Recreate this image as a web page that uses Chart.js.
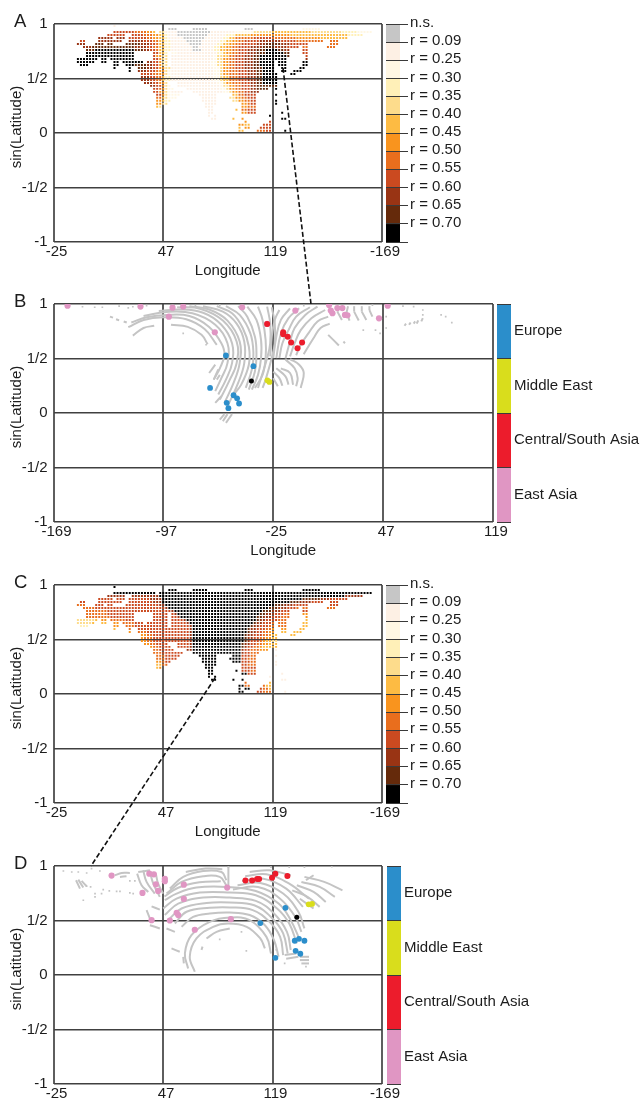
<!DOCTYPE html>
<html><head><meta charset="utf-8">
<script src="https://cdn.jsdelivr.net/npm/chart.js@4"></script>
<style>
html,body{margin:0;padding:0;background:#fff;}
#page{position:relative;width:641px;height:1100px;overflow:hidden;filter:blur(.35px);}
canvas{position:absolute;}
svg{position:absolute;left:0;top:0;pointer-events:none;}
</style></head><body><div id="page">
<svg width="641" height="1100"><line x1="283" y1="68" x2="311" y2="304" stroke="#111" stroke-width="1.6" stroke-dasharray="5 2.5"/><line x1="215" y1="678" x2="91" y2="866" stroke="#111" stroke-width="1.6" stroke-dasharray="5 2.5"/></svg>
</div>
<script>
// ---------- tick values and labels ----------
const lonValuesEast = [-25,47,119,191];
const lonValuesWest = [-169,-97,-25,47,119];
const lonTicksEast = ["-25","47","119","-169"];
const lonTicksWest = ["-169","-97","-25","47","119"];
const sinTicks = ["-1","-1/2","0","1/2","1"];
const rLabels = ["n.s.","r = 0.09","r = 0.25","r = 0.30","r = 0.35","r = 0.40","r = 0.45","r = 0.50","r = 0.55","r = 0.60","r = 0.65","r = 0.70"];
const rColors = ["#c6c6c6","#fdf0e4","#fff7e4","#fff0b8","#fddc8c","#fdbb43","#f9941e","#e96e1d","#cb4a20","#993414","#652a0b","#000000"];
const regionNames = ["Europe","Middle East","Central/South Asia","East Asia"];
const regionColors = ["#2b8ecb","#d9dd1c","#ec1c2c","#e096c3"];

// ---------- sampled map cells: column ranges per row (2 degree columns from -25) ----------
const landRows = ["20","38-40 46-50 63-65 82-87","20-33 35-104","18-23 26-101","15-19 21-23 25-96","9-10 15-19 20-22 25-88 91-93",
"8-10 14-16 18-19 24-80 81-83 91-93","10-80 82-83 90-92","11-77 82-83","11-26 33-37 39-77 82-83","11-26 33-37 39-77 83",
"8-14 16-17 19-26 33-37 39-76 83","8-13 16-17 20-21 23-26 27-29 31-37 39-72 74-76 82-83","9-11 20-21 24-26 27-37 39-72 74-76 82-83",
"20 25 28-72 75-76 81-82","25 28-72 75-76 79-81","29-73 78-79","29-73","29-73","30-37 41-73","32-38 41-73","33-39 44-70 73","33-42 46-67",
"34-41 48-53 59-66 73","34-40 49-53 58-66","34-38 49-53 59-61 62-66 73","34-37 50-53 62-66 73","34-35 50-52 62-66","51-52 60 62-66",
"51-52 62-63 64-66 75","51 53 71","52-53 59 62 75-76","63 71","61-62 63-64 69-71","61 63-64 68-71","61-62 67-71 76"];

// class stops per row: "column:class" (class index into rColors, base 12)
const classRowsA = ["0:1","38:0 60:2 63:0 70:2",
"20:8 27:7 31:6 33:5 35:4 37:1 41:0 52:1 60:2 66:4 72:5 85:4 95:3 100:2",
"18:8 30:7 33:6 35:5 37:3 38:1 41:0 51:1 57:3 60:5 65:6 78:5 97:3",
"15:9 25:8 31:7 33:6 35:5 37:3 38:1 43:0 50:1 56:3 58:5 60:7 66:8 72:7 80:6 88:5",
"9:8 15:9 30:8 33:7 35:5 37:3 39:1 44:0 49:1 55:3 57:5 59:6 61:7 63:8 68:9 75:8 80:7",
"8:9 14:a 29:9 32:8 34:7 35:5 37:3 39:1 45:0 49:1 54:3 56:5 58:6 60:7 62:8 67:9 70:a 75:9 78:8 90:7",
"10:9 13:a 27:9 31:8 33:7 35:5 37:3 39:1 46:0 48:1 53:3 55:5 57:6 59:7 61:8 65:9 69:a 73:9 77:8 82:7",
"11:a 14:b 27:a 30:9 32:8 34:7 35:5 37:3 39:1 46:0 49:1 53:3 55:5 57:6 59:7 61:8 64:9 67:a 70:b 74:a 76:9 82:8",
"11:b 33:8 35:5 37:3 39:2 41:1 54:3 56:5 57:6 59:7 61:8 64:9 67:a 70:b 76:a 82:8",
"11:b 33:8 34:6 36:4 39:1 53:2 54:4 56:5 58:7 60:8 63:9 66:a 68:b 77:a 83:8",
"8:b 33:8 35:6 36:4 39:1 53:2 54:4 56:6 58:7 60:8 63:9 66:a 68:b 83:9",
"8:b 31:9 33:8 35:6 36:4 39:1 52:2 54:4 56:6 58:7 60:8 63:9 66:a 68:b",
"9:b 27:a 31:9 33:8 35:6 36:4 39:1 52:2 54:4 56:6 58:7 60:8 63:9 66:a 68:b",
"20:b 28:a 31:9 33:8 35:6 37:4 39:1 53:2 55:4 56:6 58:7 60:8 63:9 66:a 69:b",
"25:b 28:9 31:8 34:7 35:6 37:4 38:2 39:1 53:2 55:4 56:6 58:7 61:8 64:9 67:a 69:b",
"29:8 33:7 35:6 37:4 38:2 39:1 53:2 55:4 56:6 58:7 61:8 64:9 67:a 69:b",
"29:9 32:8 34:7 36:5 37:3 39:1 53:2 55:4 56:5 58:7 61:8 64:9 67:a 69:b",
"29:9 32:8 34:7 36:5 37:3 39:1 53:2 55:4 56:5 58:7 61:8 64:9 67:a 69:b",
"30:9 33:8 35:6 37:4 41:1 54:2 56:4 57:6 59:7 62:8 65:9 67:a 69:b",
"32:9 34:8 36:6 37:4 38:2 41:1 55:2 56:4 58:6 60:7 62:8 65:9 67:a",
"33:8 35:7 36:6 37:4 38:2 44:1 55:2 57:4 58:6 60:7 62:8 65:9 67:a 73:b",
"33:8 35:6 37:4 38:2 39:1 56:2 58:4 59:6 61:7 63:8 65:9",
"34:8 36:6 37:4 38:2 48:1 59:5 61:7 63:8 73:b",
"34:7 36:5 37:4 38:2 49:1 58:4 60:6 62:7 64:8",
"34:6 36:5 37:3 49:1 59:4 61:6 63:7 65:8 73:b",
"34:6 36:4 50:1 62:6 64:7 65:8 73:b",
"34:5 35:4 50:1 62:6 64:7",
"51:1 60:5 62:7 64:8",
"51:1 62:6 64:8 75:b",
"51:1 71:b",
"52:1 59:5 62:6 75:b",
"63:6 71:8",
"61:6 63:5 69:8",
"61:5 63:6 68:8",
"61:5 67:7 70:8 76:b"];

const classRowsC = ["0:b","0:b","0:b",
"18:9 35:b 96:9",
"15:8 32:9 36:b 82:a 88:9 91:8",
"9:8 33:9 36:b 78:a 81:9 85:8",
"8:7 14:8 35:9 37:b 73:a 76:9 79:8",
"10:7 14:8 37:9 38:b 71:a 74:9 77:8 80:7",
"11:7 18:8 39:9 40:b 69:a 72:9 75:8",
"11:7 18:8 40:9 41:b 68:a 70:9 73:8 76:7 82:6",
"11:7 19:8 41:9 42:b 67:a 69:9 72:8 75:7 83:6",
"8:4 14:5 16:6 19:7 24:8 43:9 44:b 67:a 68:9 70:8 74:7 83:5",
"8:4 13:5 20:6 23:7 27:8 44:9 45:b 66:a 67:9 69:8 72:7 82:5",
"9:3 20:6 24:7 27:8 45:9 46:b 65:a 66:9 68:8 71:7 82:5",
"20:5 25:7 28:8 45:9 46:b 64:a 65:9 67:8 70:7 72:6 81:5",
"25:6 28:7 31:8 45:9 46:b 64:a 65:9 67:8 69:7 71:6 73:5",
"29:6 31:7 33:8 45:9 46:b 63:a 64:9 66:8 69:7 71:6 72:5",
"29:6 30:7 33:8 45:9 46:b 63:a 64:9 66:8 68:7 70:6 72:5",
"29:6 31:7 33:8 45:9 46:b 63:a 64:9 65:8 68:7 69:6 70:5 72:4",
"30:6 32:7 34:8 45:9 46:b 62:a 63:9 65:8 67:7 69:6 71:5",
"32:6 33:7 35:8 45:9 46:b 62:a 63:9 64:8 66:7 68:6 69:5",
"33:7 35:8 44:9 46:b 62:9 63:8 65:7 68:6 73:1",
"33:7 36:8 46:b 62:9 63:8 65:7",
"34:7 37:8 48:b 62:8 65:7 73:1",
"34:7 37:8 49:b 62:8 64:7",
"34:6 36:7 37:8 49:b 62:8 65:7 73:1",
"34:5 36:7 50:b 62:8 64:7 73:1",
"34:5 35:6 50:b 62:8",
"51:b 62:8 65:7",
"51:b 64:8 75:1",
"51:b 71:1",
"52:b 75:1",
"63:7 71:5",
"61:b 63:7 70:5",
"61:b 68:8 69:7 71:5",
"61:b 67:8 69:7 76:1"];

// ---------- panel B: grey arcs (lon, sin) and isolated cells ----------
const grayArcsB = [
[-117,.71,-110,.78,-103,.80],[-92,.81,-81,.79,-72,.717,-68,.63],
[-120,.787,-110,.854,-97,.878,-82,.86,-70,.77,-62,.626],
[-118,.83,-108,.878,-95,.90,-80,.89,-67,.79,-59,.64,-57,.534,-60,.41,-64,.306],
[-110,.89,-95,.927,-78,.915,-63,.81,-55,.64,-55,.458,-59,.32,-63,.20],
[-100,.936,-86,.95,-71,.92,-59,.81,-52,.64,-52,.458,-56,.306,-61,.17],
[-88,.97,-73,.957,-58,.848,-49,.656,-49,.458,-54,.29,-60,.123],
[-80,.98,-67,.95,-55,.848,-47,.656,-47,.458,-51,.276,-57,.093],
[-71,.98,-58,.93,-49,.82,-44,.656,-44,.458,-48,.276,-55,.06],
[-62,.98,-52,.915,-45,.78,-41,.61,-41,.443,-46,.26,-51,.17],
[-56,.98,-47,.90,-40,.73,-38,.55,-39,.40,-43,.23],
[-48,.98,-42,.884,-37,.70,-36,.534,-37,.382,-41,.215],
[-42,.976,-36,.854,-33,.67,-33,.504,-35,.35,-39,.215],
[-35,.976,-32,.854,-30,.67,-30,.504,-32,.35,-37,.23],
[-29,.976,-27,.82,-27,.64,-29,.504,-33,.32,-35,.23],
[-26,.97,-24,.82,-24,.64,-26,.504,-30,.306,-32,.23],
[-27,.52,-26,.70,-24,.854,-21,.945],[-25,.504,-23,.70,-20,.854,-14,.96],
[-23,.504,-20,.73,-15,.87,-8,.96],[-21,.504,-19,.64,-15,.76,-10,.884,-1,.97],
[-17,.50,-14,.656,-11,.78,-4,.90,4,.976],[-14,.52,-11,.64,-7,.76,0,.87,9,.945],
[-10,.53,-7,.626,-2,.73,4,.84,11,.884],[-5,.54,-2,.61,2,.70,6,.78,12,.82],
[11,.717,18,.62],[21,.656,22,.64],
[-14,.495,-8,.443,-5,.367,-7,.23],[-17,.49,-11,.41,-9,.32,-10,.245],[-20,.41,-14,.367,-12,.26],
[-23,.41,-17,.336,-15,.26],[-25,.38,-21,.32,-19,.25],[-25,.32,-22,.245],
[17,.93,18,.98],[17,.93,20,.854],[23,.92,24,.98],[23,.92,25,.848],[28,.93,28,.98],[28,.93,31,.848],[33,.93,33,.98],[33,.93,36,.854],[38,.945,38,.98],[38,.945,40,.884],
[61,.80,62,.82],[64,.81,65,.83],[67,.82,68,.84],[69,.82,70,.85],[72,.84,73,.87],
[-63,.443,-67,.367],[-61,.40,-64,.306],[-60,.35,-62,.306],[-59,.155,-63,.093],
[-55,-.01,-58,-.075],[-57,-.01,-60,-.06],[-52,-.01,-56,-.09],
[-132,.884,-130,.875],[-128,.86,-126,.85],[-123,.84,-121,.83]];
const grayLonB = [67,73,73,85,88,92,34,42,45,49,49,-84,-69,-150,-142,-137,-126,-120,-117,-108,-76,-60,-5,40,60];
const graySinB = [.976,.945,.90,.90,.885,.83,.76,.76,.73,.78,.884,.73,.626,.975,.97,.97,.98,.965,.975,.985,.985,.99,.985,.99,.98];

const blueLonB = [-56,-38,-66.4,-51,-48.7,-55.5,-47.4,-54.4];
const blueSinB = [.528,.43,.23,.163,.135,.093,.087,.044];
const yellowLonB = [-27.5,-28.8];
const yellowSinB = [.285,.30];
const redLonB = [-29,-18.5,-18.5,-15.5,-13.3,-9.1,-6.1];
const redSinB = [.817,.741,.723,.70,.647,.595,.647];
const pinkLonB = [-159.8,-112,-91,-84,-93.4,-63.3,-45.4,-10.5,-29,11.6,12.7,13.8,17,20.3,22,23.6,44.3,50];
const pinkSinB = [.985,.976,.966,.976,.884,.741,.97,.94,.817,.99,.94,.915,.963,.963,.90,.897,.869,.985];
const blackLonB = [-39.3];
const blackSinB = [.294];

// ---------- panel D ----------
const grayArcsD = [
[75.6,.335,82.2,.396,90.9,.427],
[67.9,.03,64.6,.167,69,.335,80,.442,89.8,.472,102,.442,111,.335,114,.244],
[63.5,.06,61.4,.198,65.7,.366,77.8,.488,90.9,.527,104,.503,115,.35,118,.198],
[59.2,.442,66.8,.533,77.8,.564,90.9,.573,104,.55,114,.457,120,.32,123,.167],
[54.8,.472,62.5,.58,77.8,.616,90.9,.62,106,.595,117,.488,124,.35,126,.183],
[50.4,.503,59.2,.61,75.6,.66,90.9,.665,107,.64,119,.518,126,.381,129,.198],
[48.2,.55,57,.655,73.4,.71,90.9,.71,108,.68,120,.564,128.5,.396,131,.23],
[47.1,.61,55.9,.70,71.2,.756,90.9,.756,108,.732,122,.61,130,.472,135,.29],
[48.2,.686,55.9,.747,69,.802,88.7,.808,108,.771,123,.655,131,.503,137,.32],
[93,.784,109.5,.808,124,.70,134,.533,138,.396],
[96,.823,111,.845,126,.747,136,.58,140,.427],
[99,.863,113,.884,128,.793,139,.625],
[101,.906,115,.924,130,.838,143,.70],
[104,.945,117,.96,131,.915],
[90,.99,90,.823],
[62,.945,75,.976,86,.97],
[51.5,.793,60.3,.90,73.4,.954,85.4,.945,88.7,.869],
[49.3,.747,59.2,.854,73.4,.906,84.3,.90,88.7,.823],
[48,.72,57,.80,71,.85,85,.86],
[30,.93,32.9,.823,37.3,.762],[34,.96,36.2,.854,41.6,.747],[38.4,.945,40.6,.838,44.9,.717],[42.3,.93,43.8,.838,47.1,.747],
[15.4,.915,19.8,.936,25.2,.936],[18.7,.90,23,.906],[30.7,.945,38.4,.96],
[39.5,.63,44.9,.60],[36.2,.595,38.4,.518],[38.4,.457,44.9,.427],[49.3,.427,54.8,.396],[52.6,.244,58,.213],[60.3,.167,60.7,.106],[73,.26,72.3,.23],
[-10.2,.869,-7.6,.793],[-8.7,.875,-5.4,.802],[-6.5,.863,-3.2,.814],
[140,.90,153,.854,165,.777],[138,.854,150,.808,160,.717],[135,.823,146,.762,154,.67],[132,.777,142,.717,150,.625],[137,.70,146,.61],[141,.87,146,.915],
[127,.183,134.7,.198],[128,.15,136,.167],[137,.167,143,.167],[137,.137,143,.137],[138,.106,143,.106]];
const grayLonD = [-18.5,-13,-8.7,-3.2,0,5.5,-3.2,-.6,2.3,6.6,2.3,-5.4,7.7,11.7,16.5,18.7,25.2,27.4,25.2,28.5,84.3,98.6,101.8,120.5,121.5,127,141,90,118,130,140,158];
const graySinD = [.954,.945,.945,.936,.976,.954,.814,.808,.747,.747,.717,.686,.784,.771,.768,.768,.753,.747,.863,.863,.326,.396,.222,.29,.23,.106,.076,.99,.99,.99,.99,.995];

const blueLonD = [111,127.5,133.6,136.4,140,134.2,137.3,120.9];
const blueSinD = [.476,.616,.314,.332,.314,.222,.195,.158];
const yellowLonD = [142.8,145];
const yellowSinD = [.648,.652];
const redLonD = [101.2,105.6,108.9,110.2,118.7,120.9,128.8];
const redSinD = [.866,.866,.881,.881,.893,.93,.909];
const pinkLonD = [13.2,38,41,42.3,43.8,33.5,48.2,48.2,60.7,60.7,56,57,39.5,51.5,67.9,89.2,91.6];
const pinkSinD = [.912,.93,.924,.832,.771,.753,.881,.86,.829,.698,.57,.55,.503,.50,.415,.802,.512];
const blackLonD = [135];
const blackSinD = [.53];

// ---------- helpers ----------
const FONT = "'Liberation Sans', Arial, sans-serif";
const page = document.getElementById('page');
Chart.defaults.font.family = FONT;
Chart.defaults.font.size = 15;
Chart.defaults.color = '#1c1c1c';

function addCanvas(left, top, w, h){
  const c = document.createElement('canvas');
  c.width = w; c.height = h;
  c.style.left = left+'px'; c.style.top = top+'px';
  c.style.width = w+'px'; c.style.height = h+'px';
  page.insertBefore(c, page.querySelector('svg'));
  return c;
}
function zeroPad(s){ s.paddingLeft = s.paddingRight = s.paddingTop = s.paddingBottom = 0; }

const panelText = {
  id:'panelText',
  afterDraw(chart, args, o){
    const {ctx, chartArea:a} = chart;
    ctx.save();
    ctx.fillStyle = '#1c1c1c';
    ctx.textBaseline = 'alphabetic';
    ctx.font = "18.5px "+FONT; ctx.textAlign = 'left';
    ctx.fillText(o.letter, 14, a.top+3);
    ctx.font = "15px "+FONT; ctx.textAlign = 'center';
    if(o.xTitle){ ctx.fillText(o.xTitle, (a.left+a.right)/2+10, a.bottom+33); }
    ctx.translate(21, (a.top+a.bottom)/2-6); ctx.rotate(-Math.PI/2);
    ctx.fillText(o.yTitle, 0, 0);
    ctx.restore();
  }
};

function gridSets(classRows){
  const sets = rColors.map(()=>[]);
  landRows.forEach((row, r)=>{
    const stops = classRows[r].split(' ').map(t=>{const p=t.split(':');return [Number(p[0]),parseInt(p[1],12)];});
    row.split(' ').forEach(run=>{
      const p = run.split('-').map(Number);
      const a = p[0], b = p.length>1 ? p[1] : p[0];
      for(let c=a;c<=b;c++){
        let k = stops[0][1];
        for(const s of stops){ if(c>=s[0]) k = s[1]; }
        sets[k].push({x:-25+2.005*c, y:.9817-.02747*r});
      }
    });
  });
  return sets.map((d,i)=>({data:d,backgroundColor:rColors[i],borderWidth:0,pointStyle:'rect',pointRadius:1.4,pointHoverRadius:1.4,order:1}));
}
function zipPts(xs,ys){ return xs.map((x,i)=>({x,y:ys[i]})); }
function markerSet(xs,ys,color,radius,order){
  return {data:zipPts(xs,ys),backgroundColor:color,borderWidth:0,pointRadius:radius,pointStyle:'circle',order:order};
}
function arcSets(arcs,lons,sins){
  const out = arcs.map(f=>{
    const d=[]; for(let i=0;i<f.length;i+=2) d.push({x:f[i],y:f[i+1]});
    return {data:d,showLine:true,borderColor:'#c4c4c4',borderWidth:2,tension:.4,pointRadius:0,order:5,clip:false};
  });
  out.push({data:zipPts(lons,sins),backgroundColor:'#c4c4c4',borderWidth:0,pointStyle:'rect',pointRadius:1.2,order:5});
  return out;
}

function mapChart(top, right, lonValues, lonLabels, datasets, letter, xTitle, xH){
  const padTop = 24, plotH = 218, padRight = 24;
  const c = addCanvas(0, top-padTop, right+padRight, padTop+plotH+xH);
  new Chart(c,{
    type:'scatter',
    data:{datasets},
    plugins:[panelText],
    options:{
      responsive:false, animation:false, events:[],
      layout:{padding:{top:padTop,right:padRight,left:0,bottom:0}},
      plugins:{legend:{display:false},tooltip:{enabled:false},panelText:{letter,xTitle,yTitle:'sin(Latitude)'}},
      scales:{
        x:{type:'linear',bounds:'data',
          afterDataLimits:s=>{s.min=lonValues[0];s.max=lonValues[lonValues.length-1];},
          afterBuildTicks:s=>{s.ticks=lonValues.map(value=>({value}));},
          ticks:{autoSkip:false,maxRotation:0,padding:1,labelOffset:3,color:'#1c1c1c',
            callback:(v,i)=>lonLabels[i]},
          grid:{color:'#5e5e5e',lineWidth:2,drawTicks:false},border:{display:false},
          afterFit:s=>{s.height=xH;zeroPad(s);}},
        y:{type:'linear',min:-1,max:1,
          ticks:{stepSize:.5,autoSkip:false,padding:6,color:'#1c1c1c',
            callback:(v,i)=>sinTicks[i]},
          grid:{color:'#404040',lineWidth:1.5,drawTicks:false},border:{display:false},
          afterFit:s=>{s.width=53.5;zeroPad(s);}}
      }
    }
  });
}

function barChart(left, top, barW, labelW, colors, labels, maxV, tickLen, offset, pad){
  const padV = 12;
  const c = addCanvas(left, top-padV, barW+labelW, 218+2*padV);
  new Chart(c,{
    type:'bar',
    data:{labels:[''],datasets:colors.map(col=>({data:[1],backgroundColor:col,barPercentage:1,categoryPercentage:1,borderWidth:0}))},
    options:{
      responsive:false, animation:false, events:[],
      layout:{padding:{top:padV,bottom:padV,left:0,right:0}},
      plugins:{legend:{display:false},tooltip:{enabled:false}},
      scales:{
        x:{stacked:true,display:false,afterFit:s=>{s.height=0;zeroPad(s);}},
        y:{stacked:true,position:'right',reverse:true,min:0,max:maxV,
          ticks:{stepSize:1,autoSkip:false,padding:pad,labelOffset:offset,color:'#1c1c1c',
            callback:v=>labels[v]!==undefined?labels[v]:''},
          grid:{z:1,color:'#3a3a3a',lineWidth:1,drawTicks:tickLen>0,tickLength:tickLen,tickColor:'#3a3a3a'},
          border:{display:false},
          afterFit:s=>{s.width=labelW;zeroPad(s);}}
      }
    }
  });
}

// ---------- panels ----------
mapChart(23.5, 382, lonValuesEast, lonTicksEast, gridSets(classRowsA), 'A', 'Longitude', 36);
barChart(386, 23.5, 14, 66, rColors, rLabels, 12, 8, -1, 2);

const bSets = [markerSet(blackLonB,blackSinB,'#000',2.5,1),markerSet(blueLonB,blueSinB,regionColors[0],2.9,1),
  markerSet(yellowLonB,yellowSinB,regionColors[1],2.9,1),markerSet(redLonB,redSinB,regionColors[2],3,1),
  markerSet(pinkLonB,pinkSinB,regionColors[3],3.1,2)].concat(arcSets(grayArcsB,grayLonB,graySinB));
mapChart(304, 493, lonValuesWest, lonTicksWest, bSets, 'B', 'Longitude', 36);
barChart(497, 304, 14, 130, regionColors, regionNames, 4, 0, 27, 3);

mapChart(585, 382, lonValuesEast, lonTicksEast, gridSets(classRowsC), 'C', 'Longitude', 36);
barChart(386, 585, 14, 66, rColors, rLabels, 12, 8, -1, 2);

const dSets = [markerSet(blackLonD,blackSinD,'#000',2.5,1),markerSet(blueLonD,blueSinD,regionColors[0],2.9,1),
  markerSet(yellowLonD,yellowSinD,regionColors[1],2.9,1),markerSet(redLonD,redSinD,regionColors[2],3,1),
  markerSet(pinkLonD,pinkSinD,regionColors[3],3.1,2)].concat(arcSets(grayArcsD,grayLonD,graySinD));
mapChart(866, 382, lonValuesEast, lonTicksEast, dSets, 'D', '', 16);
barChart(387, 866, 14, 150, regionColors, regionNames, 4, 0, 27, 3);
</script></body></html>
